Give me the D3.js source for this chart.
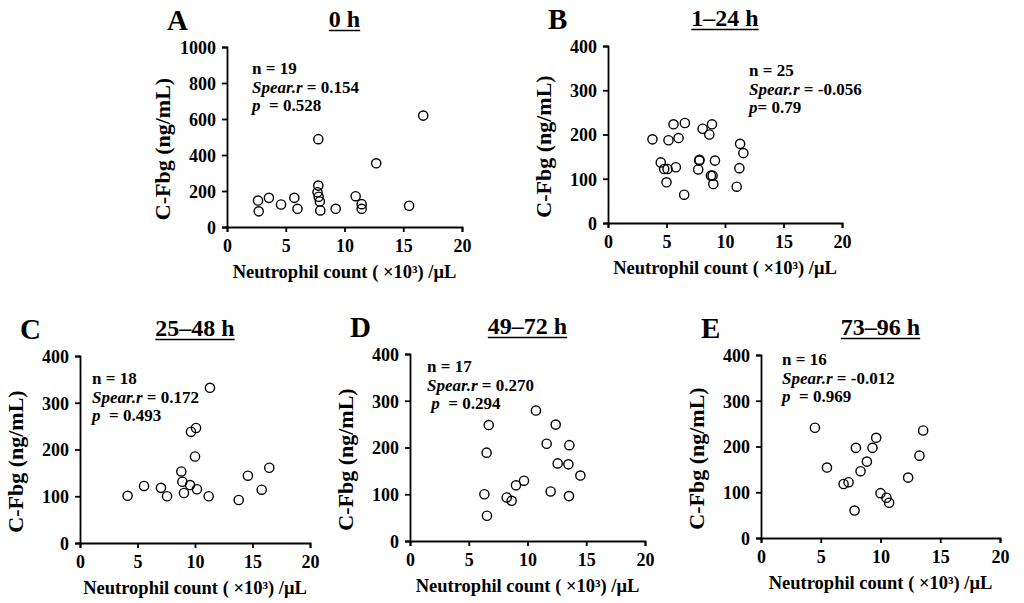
<!DOCTYPE html>
<html>
<head>
<meta charset="utf-8">
<script src="https://cdn.jsdelivr.net/npm/d3@7"></script>
<style>
  body { margin: 0; background: #fff; }
  text { font-family: "Liberation Serif", "Times New Roman", serif; font-weight: bold; fill: #000; }
</style>
</head>
<body>
<svg id="chart" width="1024" height="603"></svg>
<script>
// values
const xTicks = [0, 5, 10, 15, 20]

const aX = [2.64, 2.7, 3.57, 4.6, 5.73, 6.0, 7.77, 7.77, 7.7, 7.8, 7.9, 7.94, 9.25, 10.95, 11.46, 11.46, 12.7, 15.5, 16.7]
const aY = [147, 87, 162, 125, 162, 101, 488, 230, 193, 168, 142, 92, 101, 171, 127, 101, 354, 118, 619]

const bX = [3.8, 4.51, 4.8, 5.09, 5.0, 5.17, 5.6, 5.8, 6.03, 6.51, 6.57, 7.71, 7.8, 7.82, 8.09, 8.66, 8.89, 8.8, 8.94, 9.0, 9.14, 11.0, 11.23, 11.29, 11.57]
const bY = [189, 137, 122, 122, 92, 187, 223, 126, 192, 64, 226, 121, 141, 143, 213, 200, 223, 107, 107, 88, 141, 82, 124, 179, 158]

const cX = [4.14, 5.57, 7.04, 7.57, 8.81, 8.9, 9.04, 9.57, 9.65, 10.09, 10.0, 10.17, 11.19, 11.3, 13.8, 14.6, 15.8, 16.46]
const cY = [101, 122, 118, 100, 153, 131, 107, 124, 238, 246, 185, 115, 100, 332, 92, 144, 114, 161]

const dX = [6.33, 6.7, 6.52, 6.55, 8.23, 8.65, 9.02, 9.7, 10.72, 11.63, 11.97, 12.4, 12.57, 13.48, 13.56, 13.53, 14.5]
const dY = [100, 248, 189, 54, 93, 86, 119, 129, 279, 208, 106, 249, 166, 164, 205, 96, 140]

const eX = [4.51, 5.52, 6.91, 7.33, 7.83, 7.94, 8.33, 8.86, 9.33, 9.64, 10.0, 10.5, 10.72, 12.31, 13.26, 13.57]
const eY = [241, 154, 118, 122, 60, 197, 146, 167, 197, 219, 98, 88, 77, 132, 180, 235]

const letters = ['A', 'B', 'C', 'D', 'E']
const titles = ['0 h', '1–24 h', '25–48 h', '49–72 h', '73–96 h']
const yMaxes = [1000, 400, 400, 400, 400]
const statN = ['n = 19', 'n = 25', 'n = 18', 'n = 17', 'n = 16']
const statR = [' = 0.154', ' = -0.056', ' = 0.172', ' = 0.270', ' = -0.012']
const statP = ['  = 0.528', '= 0.79', '  = 0.493', '  = 0.294', '  = 0.969']
const pLead = ['', '', '', ' ', '']
const series = [[aX, aY], [bX, bY], [cX, cY], [dX, dY], [eX, eY]]

// layout: plot box [left, right, top, bottom] and stats text anchor
const layout = [
    { box: [227, 462, 47, 227], stat: [252, 74] },
    { box: [608, 842, 46, 223], stat: [749, 76] },
    { box: [80, 310, 356, 543], stat: [92, 384] },
    { box: [410, 645, 354, 541], stat: [427, 372] },
    { box: [761, 1000, 355, 538], stat: [782, 365] },
]

const svg = d3.select('#chart')

letters.forEach((letter, i) => {
    const [x0, x1, y0, y1] = layout[i].box
    const g = svg.append('g')

    const x = d3.scaleLinear().domain([0, 20]).range([x0, x1])
    const y = d3.scaleLinear().domain([0, yMaxes[i]]).range([y1, y0])
    const yTicks = d3.range(0, yMaxes[i] + 1, yMaxes[i] / (yMaxes[i] == 1000 ? 5 : 4))

    const xAxis = g.append('g')
        .attr('transform', `translate(0,${y1})`)
        .call(d3.axisBottom(x).tickValues(xTicks).tickSizeOuter(0).tickSize(5).tickPadding(7))
    const yAxis = g.append('g')
        .attr('transform', `translate(${x0},0)`)
        .call(d3.axisLeft(y).tickValues(yTicks).tickFormat(d3.format('d')).tickSizeOuter(0).tickSize(5).tickPadding(6))

    for (const ax of [xAxis, yAxis]) {
        ax.selectAll('path, line').attr('stroke', '#000').attr('stroke-width', 1.8)
        ax.selectAll('text')
            .style('font-family', '"Liberation Serif", serif')
            .style('font-weight', 'bold')
            .style('font-size', '18px')
            .attr('fill', '#000')
    }
    yAxis.selectAll('text').attr('dy', '0.35em')

    // points
    const [xs, ys] = series[i]
    g.selectAll('circle')
        .data(xs.map((v, k) => [v, ys[k]]))
        .join('circle')
        .attr('cx', d => x(d[0]))
        .attr('cy', d => y(d[1]))
        .attr('r', 4.6)
        .attr('fill', 'none')
        .attr('stroke', '#000')
        .attr('stroke-width', 1.4)

    // axis labels
    g.append('text')
        .attr('x', (x0 + x1) / 2)
        .attr('y', y1 + 51)
        .attr('text-anchor', 'middle')
        .style('font-size', '18.5px')
        .text('Neutrophil count ( ×10³) /μL')

    g.append('text')
        .attr('transform', `translate(${x0 - 57},${(y0 + y1) / 2 + 12}) rotate(-90)`)
        .attr('text-anchor', 'middle')
        .style('font-size', '22px')
        .text('C-Fbg (ng/mL)')

    // panel letter and title
    g.append('text')
        .attr('x', x0 - 60)
        .attr('y', y0 - 17)
        .style('font-size', '29px')
        .text(letter)

    const title = g.append('text')
        .attr('x', (x0 + x1) / 2)
        .attr('y', y0 - 20)
        .attr('text-anchor', 'middle')
        .style('font-size', '24px')
        .text(titles[i])
    const tw = title.node().getComputedTextLength()
    g.append('line')
        .attr('x1', (x0 + x1) / 2 - tw / 2)
        .attr('x2', (x0 + x1) / 2 + tw / 2)
        .attr('y1', y0 - 16.5)
        .attr('y2', y0 - 16.5)
        .attr('stroke', '#000')
        .attr('stroke-width', 1.6)

    // stats block
    const [sx, sy] = layout[i].stat
    const stats = g.append('text').style('font-size', '17px')
    stats.append('tspan').attr('x', sx).attr('y', sy).text(statN[i])
    const rLine = stats.append('tspan').attr('x', sx).attr('y', sy + 18.5)
    rLine.append('tspan').style('font-style', 'italic').text('Spear.r')
    rLine.append('tspan').text(statR[i])
    const pLine = stats.append('tspan').attr('x', sx).attr('y', sy + 37)
    pLine.append('tspan').style('font-style', 'italic').style('white-space', 'pre').text(pLead[i] + 'p')
    pLine.append('tspan').style('white-space', 'pre').text(statP[i])
})
</script>
</body>
</html>
